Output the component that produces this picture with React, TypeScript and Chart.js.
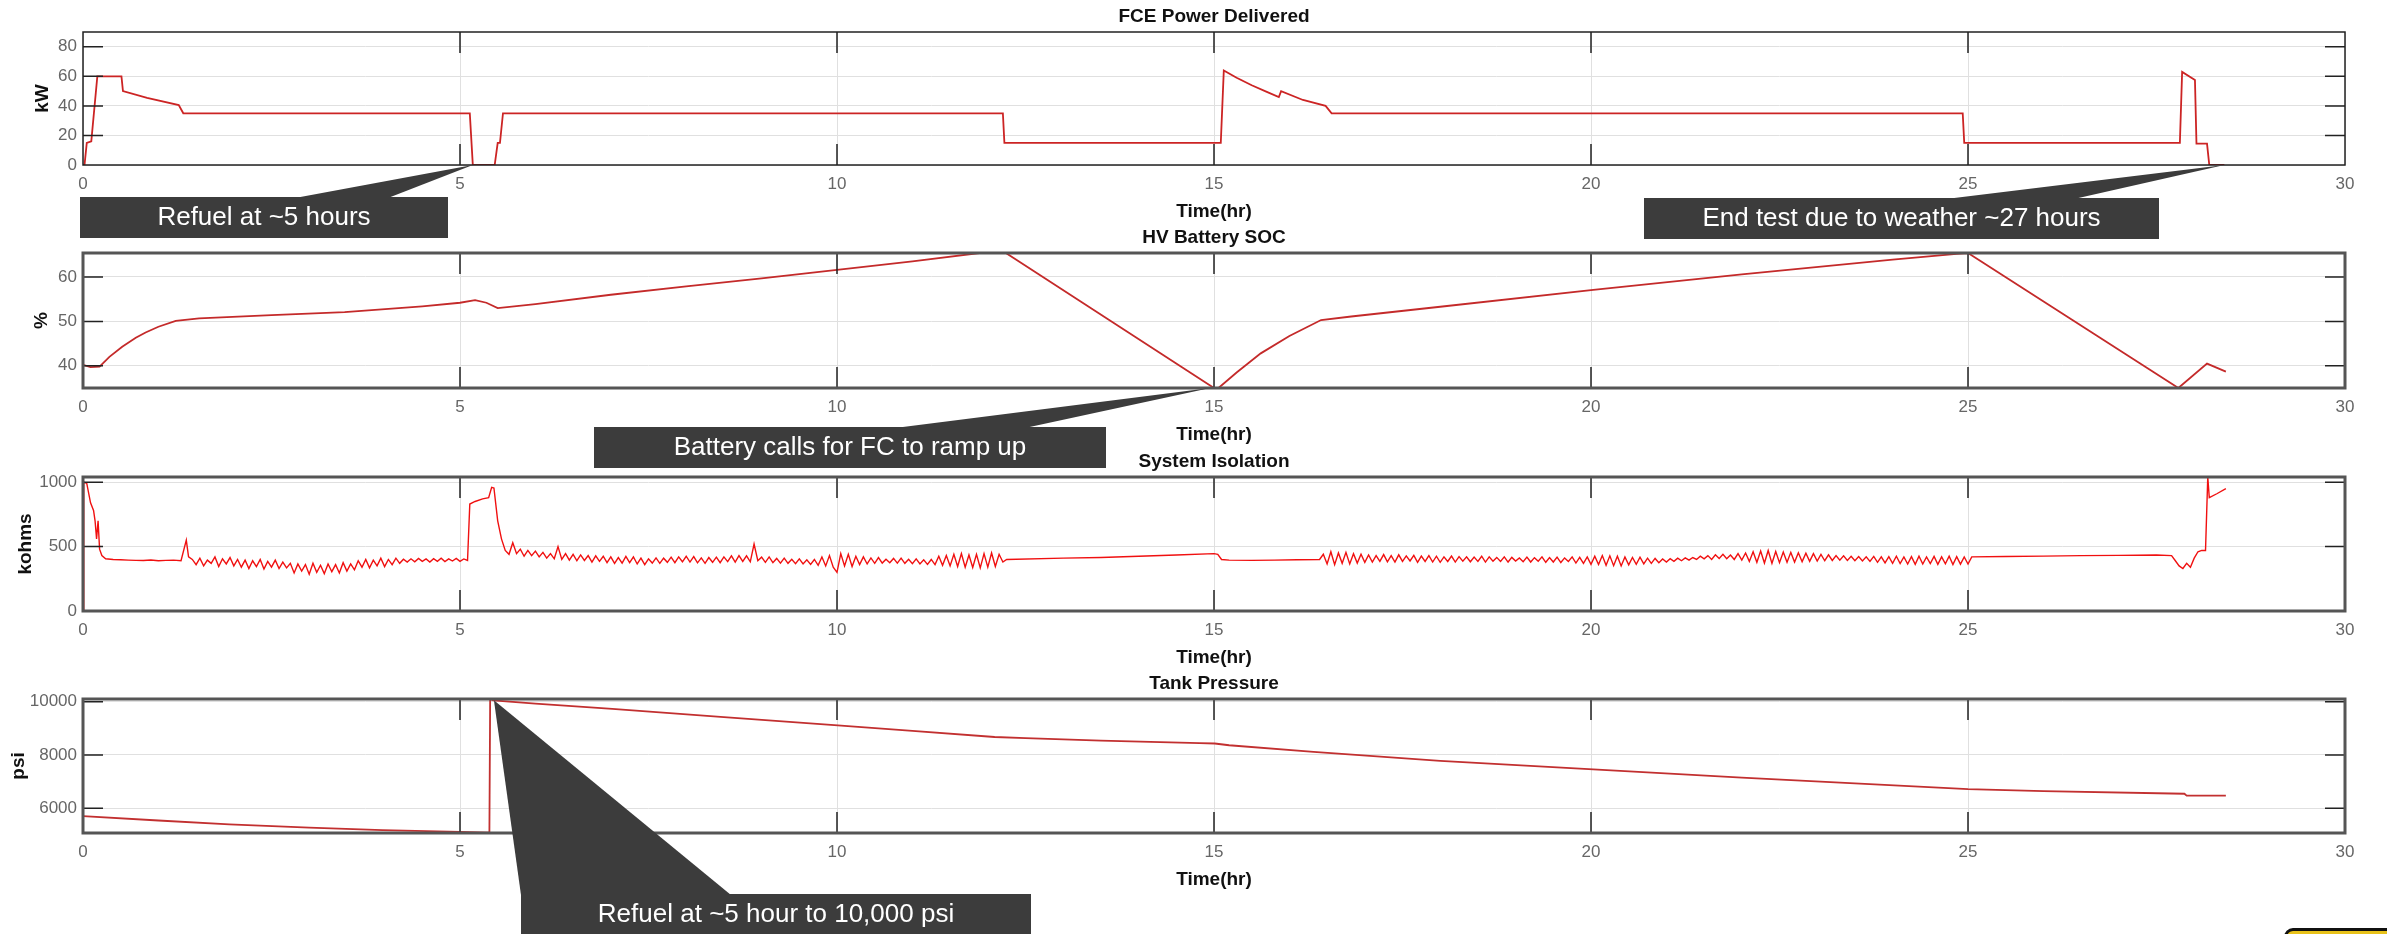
import { useEffect, useRef } from "react";
import { Chart, registerables } from "chart.js";
Chart.register(...registerables);

const FONT = '"Liberation Sans", Arial, Helvetica, sans-serif';

const xTicks = [0, 5, 10, 15, 20, 25, 30];

// FCE Power Delivered (kW)
const fceTime = [0, 0.02, 0.05, 0.11, 0.19, 0.51, 0.53, 0.85, 1.27, 1.33, 5.13, 5.17, 5.46, 5.5, 5.53, 5.57, 12.2, 12.22, 15.09, 15.13, 15.3, 15.5, 15.7, 15.86, 15.89, 16.18, 16.48, 16.56, 24.93, 24.95, 27.81, 27.84, 28.01, 28.03, 28.17, 28.2, 28.4];
const fceKw = [0, 0, 15, 16, 60, 60, 50, 45.5, 40.5, 35, 35, 0, 0, 15, 15, 35, 35, 15, 15, 64, 59, 54, 49.5, 46, 50, 44, 40, 35, 35, 15, 15, 63, 57.5, 14.5, 14.5, 0, 0];
const fceTicks = [0, 20, 40, 60, 80];

// HV Battery SOC (%)
const socTime = [0, 0.1, 0.22, 0.35, 0.52, 0.7, 0.83, 1.0, 1.23, 1.54, 2.5, 3.47, 4.5, 5.0, 5.2, 5.35, 5.5, 6.0, 7.0, 8.0, 9.0, 10.0, 11.0, 11.89, 12.24, 15.0, 15.06, 15.3, 15.62, 16.0, 16.42, 16.82, 18.0, 20.03, 22.0, 24.0, 24.85, 25.0, 27.79, 28.17, 28.42];
const socPct = [40.2, 39.7, 39.8, 42, 44.3, 46.3, 47.5, 48.8, 50.1, 50.7, 51.4, 52.1, 53.4, 54.2, 54.8, 54.2, 53, 53.9, 56, 57.9, 59.7, 61.6, 63.5, 65.4, 65.4, 35, 35, 38.5, 42.8, 46.7, 50.3, 51.1, 53.3, 57.1, 60.6, 63.9, 65.2, 65.4, 35, 40.5, 38.7];
const socTicks = [40, 50, 60];

// System Isolation (kohms): explicit points + noisy stretches sampled every 0.05 h
const isoHead: [number, number][] = [
  [0, 0], [0.01, 1000], [0.05, 990], [0.1, 840], [0.14, 780], [0.16, 700], [0.18, 560], [0.2, 700], [0.22, 480], [0.25, 430], [0.3, 405],
  [0.4, 400], [0.5, 398], [0.6, 395], [0.7, 393], [0.8, 392], [0.9, 396], [1.0, 390], [1.1, 393], [1.2, 395], [1.3, 390], [1.37, 550], [1.4, 420],
];
const isoNoise1Start = 1.45;
const isoNoise1 = [
  400, 360, 410, 350, 395, 370, 420, 345, 405, 365,
  415, 350, 400, 340, 395, 330, 390, 345, 400, 325,
  385, 340, 395, 330, 380, 335, 370, 295, 365, 310,
  360, 285, 370, 300, 355, 290, 365, 305, 360, 295,
  375, 310, 365, 320, 390, 340, 400, 335, 395, 350,
  410, 345, 400, 360, 410, 370, 402, 380, 405, 382,
  408, 385, 404, 380, 406, 386, 410, 384, 405, 388,
  408, 385, 404, 392,
];
const isoRefuel: [number, number][] = [
  [5.13, 830], [5.2, 850], [5.3, 870], [5.38, 880], [5.42, 960], [5.45, 955], [5.5, 700], [5.55, 560], [5.6, 470], [5.65, 440],
];
const isoNoise2Start = 5.7;
const isoNoise2 = [
  530, 445, 480, 425, 470, 430, 465, 420, 455, 410,
  445, 405, 500, 400, 445, 395, 440, 390, 435, 392,
  430, 380, 428, 385, 425, 375, 420, 370, 415, 372,
  424, 375, 420, 365, 410, 360, 405, 372, 412, 370,
  410, 378, 418, 375, 420, 382, 425, 380, 422, 374,
  412, 370, 415, 378, 418, 375, 420, 383, 428, 380,
  430, 385, 428, 382, 520, 390, 418, 378, 420, 375,
  408, 372, 410, 370, 402, 368, 405, 365, 398, 362,
  400, 355, 420, 350, 430, 340, 300, 445, 350, 440,
  345, 425, 360, 420, 365, 412, 370, 415, 372, 402,
  375, 408, 372, 410, 370, 402, 368, 405, 365, 398,
  362, 400, 360, 425, 355, 430, 350, 440, 345, 445,
  340, 435, 338, 440, 335, 445, 340, 450, 345, 440,
  380,
];
const isoQuiet: [number, number][] = [
  [12.25, 400], [13.0, 410], [13.5, 415], [14.0, 425], [14.5, 435], [15.0, 445], [15.05, 440], [15.1, 400],
  [15.2, 395], [15.5, 393], [15.8, 395], [16.1, 398], [16.4, 400],
];
const isoNoise3Start = 16.45;
const isoNoise3 = [
  440, 365, 460, 360, 450, 370, 455, 365, 445, 372,
  440, 378, 435, 380, 430, 385, 438, 382, 430, 380,
  436, 385, 428, 388, 432, 378, 426, 385, 430, 380,
  425, 378, 420, 384, 426, 380, 422, 386, 420, 382,
  418, 385, 425, 380, 420, 386, 416, 384, 420, 380,
  416, 388, 412, 382, 418, 380, 414, 386, 420, 378,
  415, 380, 418, 376, 412, 384, 420, 372, 416, 370,
  420, 362, 425, 360, 430, 355, 428, 352, 425, 350,
  420, 358, 415, 362, 418, 366, 410, 370, 408, 375,
  404, 380, 406, 385, 410, 390, 412, 395, 415, 400,
  425, 405, 430, 400, 436, 408, 440, 405, 435, 400,
  445, 395, 450, 385, 460, 378, 465, 372, 470, 370,
  462, 375, 458, 378, 455, 380, 452, 383, 448, 385,
  445, 388, 440, 390, 436, 392, 430, 395, 428, 393,
  425, 390, 422, 388, 420, 385, 424, 378, 420, 374,
  422, 370, 425, 368, 420, 365, 422, 362, 425, 365,
  420, 368, 424, 362, 420, 366, 425, 360, 422, 364,
  420, 365,
];
const isoTail: [number, number][] = [
  [25.05, 420], [25.5, 423], [26.0, 426], [26.5, 430], [27.0, 432], [27.5, 435], [27.7, 430], [27.75, 390], [27.8, 350], [27.85, 330], [27.9, 370],
  [27.95, 340], [28.0, 410], [28.05, 460], [28.1, 470], [28.15, 470], [28.18, 1040], [28.2, 880], [28.3, 910], [28.42, 950],
];
const NOISE_STEP = 0.05;
const sampled = (start: number, vals: number[]): [number, number][] =>
  vals.map((v, i) => [Math.round((start + i * NOISE_STEP) * 100) / 100, v]);
const isoSamples: [number, number][] = [
  ...isoHead,
  ...sampled(isoNoise1Start, isoNoise1),
  ...isoRefuel,
  ...sampled(isoNoise2Start, isoNoise2),
  ...isoQuiet,
  ...sampled(isoNoise3Start, isoNoise3),
  ...isoTail,
];
const isoTime = isoSamples.map((s) => s[0]);
const isoKohm = isoSamples.map((s) => s[1]);
const isoTicks = [0, 500, 1000];

// Tank Pressure (psi)
const tankTime = [0, 1, 1.94, 3, 3.97, 5.0, 5.39, 5.4, 5.44, 6, 7.02, 8.5, 10.01, 11, 12.09, 12.5, 13.5, 14.81, 15.01, 15.2, 16.32, 18, 20.03, 22, 25.0, 26, 27.87, 27.9, 28.42];
const tankPsi = [5700, 5540, 5390, 5270, 5180, 5110, 5080, 10100, 10050, 9930, 9730, 9420, 9108, 8900, 8673, 8630, 8540, 8440, 8430, 8364, 8115, 7780, 7460, 7150, 6717, 6640, 6543, 6470, 6470];
const tankTicks = [6000, 8000, 10000];

const panels = [
  { title: "FCE Power Delivered", yLabel: "kW", time: fceTime, values: fceKw, ticks: fceTicks, yMin: 0, yMax: 90, color: "#cc2424", width: 1.8, frameWidth: 1.5, frameColor: "#222", labelPad: 32 },
  { title: "HV Battery SOC", yLabel: "%", time: socTime, values: socPct, ticks: socTicks, yMin: 35, yMax: 65.4, color: "#c42a2a", width: 1.8, frameWidth: 3, frameColor: "#555", labelPad: 31 },
  { title: "System Isolation", yLabel: "kohms", time: isoTime, values: isoKohm, ticks: isoTicks, yMin: 0, yMax: 1040, color: "#f01010", width: 1.4, frameWidth: 3, frameColor: "#555", labelPad: 15 },
  { title: "Tank Pressure", yLabel: "psi", time: tankTime, values: tankPsi, ticks: tankTicks, yMin: 5070, yMax: 10100, color: "#c23030", width: 1.8, frameWidth: 3, frameColor: "#555", labelPad: 8 },
];

// layout (px): canvas top and plot height of each panel
const panelLayout = [
  { top: 0, plotH: 133 },
  { top: 221, plotH: 135 },
  { top: 445, plotH: 134 },
  { top: 667, plotH: 134 },
];
const TITLE_H = 32;
const XAXIS_H = 60;

const callouts = [
  { text: "Refuel at ~5 hours", box: { x: 80, y: 197, w: 368, h: 41 }, base: [295, 388], panel: 0, t: 5.17, v: 0 },
  { text: "End test due to weather ~27 hours", box: { x: 1644, y: 198, w: 515, h: 41 }, base: [1946, 2074], panel: 0, t: 28.4, v: 0 },
  { text: "Battery calls for FC to ramp up", box: { x: 594, y: 427, w: 512, h: 41 }, base: [895, 1025], panel: 1, t: 14.95, v: 35 },
  { text: "Refuel at ~5 hour to 10,000 psi", box: { x: 521, y: 894, w: 510, h: 42 }, base: [521, 731], panel: 3, t: 5.45, v: 10050 },
];

const framePlugin = {
  id: "frame",
  afterDraw(chart: any, _args: any, opts: any) {
    const { ctx, chartArea: a, scales } = chart;
    ctx.save();
    ctx.strokeStyle = "#222";
    ctx.lineWidth = 1.5;
    ctx.beginPath();
    xTicks.forEach((v) => {
      const px = scales.x.getPixelForValue(v);
      if (px <= a.left + 1 || px >= a.right - 1) return;
      ctx.moveTo(px, a.top);
      ctx.lineTo(px, a.top + 21);
      ctx.moveTo(px, a.bottom - 21);
      ctx.lineTo(px, a.bottom);
    });
    (opts.ticks as number[]).forEach((v) => {
      const py = scales.y.getPixelForValue(v);
      if (py <= a.top + 1 || py >= a.bottom - 1) return;
      ctx.moveTo(a.left, py);
      ctx.lineTo(a.left + 20, py);
      ctx.moveTo(a.right - 20, py);
      ctx.lineTo(a.right, py);
    });
    ctx.stroke();
    ctx.lineWidth = opts.lineWidth;
    ctx.strokeStyle = opts.color;
    ctx.strokeRect(a.left, a.top, a.right - a.left, a.bottom - a.top);
    ctx.restore();
  },
};

const plainTick = (v: any) => String(v);

function makeConfig(p: any): any {
  return {
    type: "line",
    data: {
      datasets: [
        {
          data: p.time.map((t: number, i: number) => ({ x: t, y: p.values[i] })),
          borderColor: p.color,
          borderWidth: p.width,
          pointRadius: 0,
          tension: 0,
          fill: false,
          xAxisID: "x",
          yAxisID: "y",
        },
      ],
    },
    options: {
      responsive: false,
      animation: false,
      events: [],
      layout: { padding: { left: 0, right: 42, top: 0, bottom: 0 } },
      plugins: {
        legend: { display: false },
        tooltip: { enabled: false },
        title: { display: false },
        frame: { lineWidth: p.frameWidth, color: p.frameColor, ticks: p.ticks },
      },
      scales: {
        x: {
          type: "linear",
          position: "bottom",
          min: 0,
          max: 30,
          afterBuildTicks: (s: any) => {
            s.ticks = xTicks.map((v) => ({ value: v }));
          },
          afterFit: (s: any) => {
            s.height = XAXIS_H;
          },
          grid: { color: "#e0e0e0", lineWidth: 1, drawTicks: false },
          border: { display: false },
          ticks: { color: "#666", font: { family: FONT, size: 17, lineHeight: "20px" }, padding: 9, maxRotation: 0, autoSkip: false, callback: plainTick },
          title: { display: true, text: "Time(hr)", color: "#111", font: { family: FONT, size: 19, weight: "bold", lineHeight: "22px" }, padding: { top: 0, bottom: 2 } },
        },
        xTop: {
          type: "linear",
          position: "top",
          min: 0,
          max: 30,
          grid: { display: false, drawTicks: false },
          border: { display: false },
          ticks: { display: false },
          afterFit: (s: any) => {
            s.height = TITLE_H;
          },
          title: { display: true, text: p.title, color: "#111", font: { family: FONT, size: 19, weight: "bold", lineHeight: "22px" }, padding: { top: 6, bottom: 0 } },
        },
        y: {
          type: "linear",
          position: "left",
          min: p.yMin,
          max: p.yMax,
          afterBuildTicks: (s: any) => {
            s.ticks = p.ticks.map((v: number) => ({ value: v }));
          },
          afterFit: (s: any) => {
            s.width = 83;
          },
          grid: { color: "#e0e0e0", lineWidth: 1, drawTicks: false },
          border: { display: false },
          ticks: { color: "#666", font: { family: FONT, size: 17, lineHeight: "20px" }, padding: 6, callback: plainTick },
          title: { display: true, text: p.yLabel, color: "#111", font: { family: FONT, size: 19, weight: "bold", lineHeight: "22px" }, padding: { top: p.labelPad, bottom: 0 } },
        },
      },
    },
    plugins: [framePlugin],
  };
}

export default function App() {
  const refs = useRef<(HTMLCanvasElement | null)[]>([]);
  const overlayRef = useRef<HTMLCanvasElement | null>(null);

  useEffect(() => {
    const charts = panels.map((p, i) => new Chart(refs.current[i] as HTMLCanvasElement, makeConfig(p)));
    const ov = overlayRef.current as HTMLCanvasElement;
    const ctx = ov.getContext("2d") as CanvasRenderingContext2D;
    ctx.clearRect(0, 0, ov.width, ov.height);
    callouts.forEach((c) => {
      const ch: any = charts[c.panel];
      const tipX = ch.scales.x.getPixelForValue(c.t);
      const tipY = ch.scales.y.getPixelForValue(c.v) + panelLayout[c.panel].top;
      ctx.fillStyle = "#3c3c3c";
      ctx.beginPath();
      ctx.moveTo(c.base[0], c.box.y + 1);
      ctx.lineTo(tipX, tipY);
      ctx.lineTo(c.base[1], c.box.y + 1);
      ctx.closePath();
      ctx.fill();
      ctx.fillRect(c.box.x, c.box.y, c.box.w, c.box.h);
      ctx.fillStyle = "#ffffff";
      ctx.font = `26px ${FONT}`;
      ctx.textAlign = "center";
      ctx.textBaseline = "middle";
      ctx.fillText(c.text, c.box.x + c.box.w / 2, c.box.y + 21);
    });
    return () => {
      charts.forEach((c) => c.destroy());
    };
  }, []);

  return (
    <div style={{ position: "fixed", left: 0, top: 0, width: 2387, height: 934, overflow: "hidden", background: "#fff" }}>
      {panels.map((p, i) => {
        const h = TITLE_H + panelLayout[i].plotH + XAXIS_H;
        return (
          <canvas
            key={p.title}
            ref={(el) => {
              refs.current[i] = el;
            }}
            width={2387}
            height={h}
            style={{ position: "absolute", left: 0, top: panelLayout[i].top, width: 2387, height: h }}
          />
        );
      })}
      <canvas ref={overlayRef} width={2387} height={934} style={{ position: "absolute", left: 0, top: 0, width: 2387, height: 934 }} />
      <div style={{ position: "absolute", left: 2284, top: 928, width: 110, height: 14, background: "#e8c21a", border: "3px solid #111", borderRadius: "9px 0 0 0" }} />
    </div>
  );
}
